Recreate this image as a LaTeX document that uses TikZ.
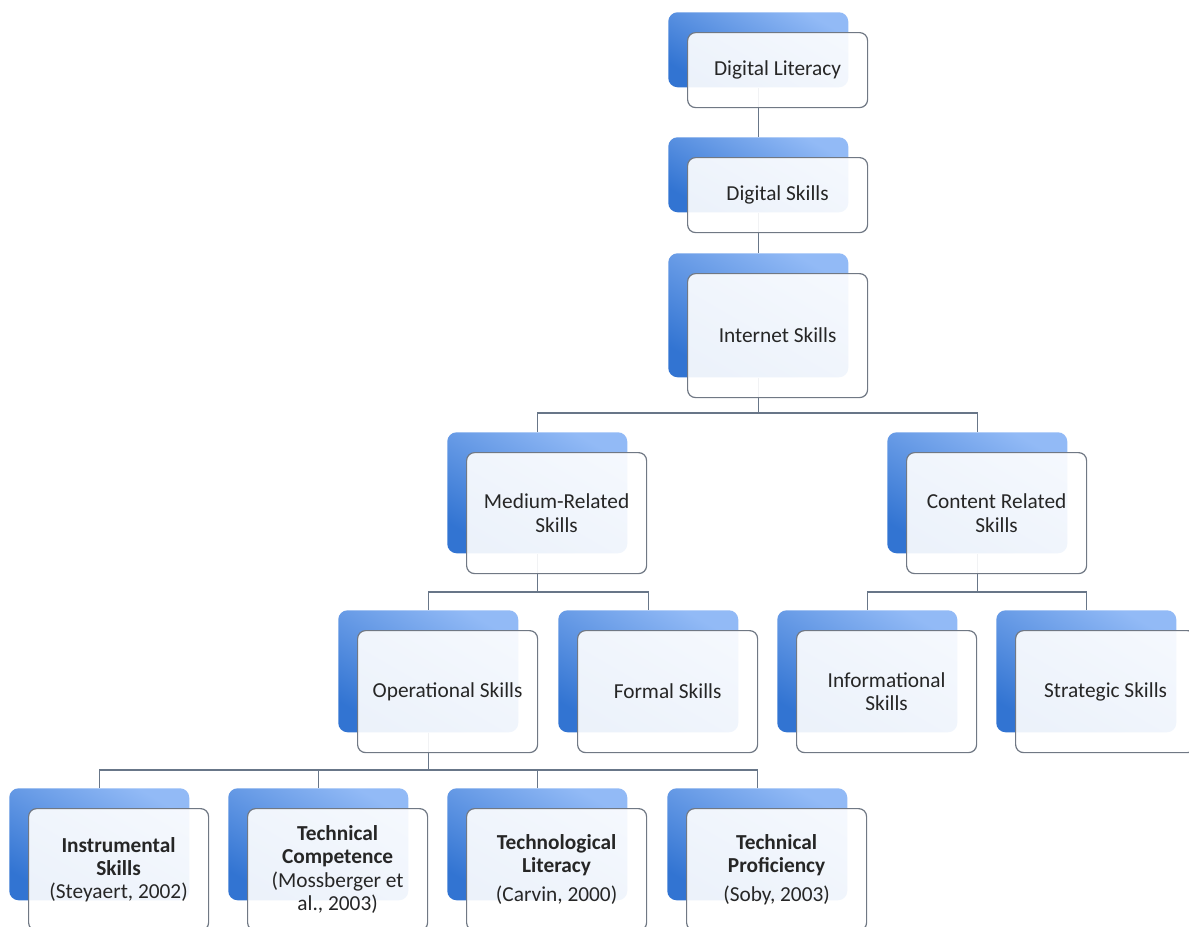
\documentclass[tikz,border=0pt]{standalone}
\usepackage{fontspec}
\setmainfont{Carlito}
\usetikzlibrary{calc}
\pgfdeclarelayer{background}
\pgfsetlayers{background,main}

\definecolor{bluetop}{RGB}{146,186,246}
\definecolor{bluebot}{RGB}{50,116,210}
\definecolor{rimgray}{RGB}{112,120,132}
\definecolor{linkgray}{RGB}{104,118,136}
\definecolor{inkgray}{RGB}{38,38,38}

\tikzset{
  backbox/.style={shape=rectangle, rounded corners=7pt, draw=none,
    top color=bluetop, bottom color=bluebot, shading angle=-30},
  frontbox/.style={shape=rectangle, rounded corners=6pt, draw=rimgray,
    line width=0.9pt, fill=white, fill opacity=0.91, text opacity=1,
    text=inkgray, align=center,
    font=\fontsize{16}{17.5}\selectfont},
  link/.style={draw=linkgray, line width=1.1pt}
}

\begin{document}
\begin{tikzpicture}[x=0.75pt,y=0.75pt]

% ------------------------------------------------------------------
% Each skill is drawn as: \skillpair{name}{x}{y}{height}{front height}{text}
% (x,y) is the top-left corner of the blue card, in pixels from the top-left.
% The white card sits 19 px right and 20 px below the blue one.
% ------------------------------------------------------------------
\newcommand{\skillpair}[6]{%
  \node[backbox, minimum width=180*0.75pt, minimum height=#4*0.75pt,
    anchor=north west] (#1) at (#2,-#3) {};
  \node[frontbox, minimum width=180*0.75pt, minimum height=#5*0.75pt,
    anchor=north west] (#1-f) at (#2+19,-#3-20) {#6};
}

\useasboundingbox (0,0) rectangle (1189,-926);
\clip (0,0) rectangle (1189,-926);

% Heights of the horizontal bars.
\coordinate (bar1) at (0,-413);
\coordinate (bar2) at (0,-592);
\coordinate (bar3) at (0,-770);

% Top chain.
\skillpair{lit}{668}{12}{75}{75}{Digital Literacy}
\skillpair{dig}{668}{137}{75}{75}{Digital Skills}
\skillpair{int}{668}{253}{124}{124}{Internet Skills}

% Second level.
\skillpair{med}{447}{432}{121}{121}{Medium-Related\\Skills}
\skillpair{con}{887}{432}{121}{121}{Content Related\\Skills}

% Third level.
\skillpair{ope}{338}{610}{122}{122}{Operational Skills}
\skillpair{frm}{558}{610}{122}{122}{Formal Skills}
\skillpair{inf}{777}{610}{122}{122}{Informational\\Skills}
\skillpair{str}{996}{610}{122}{122}{Strategic Skills}

% Bottom row, cut by the lower edge.
\skillpair{ins}{9}{788}{112}{122}{\textbf{Instrumental}\\\textbf{Skills}\\(Steyaert, 2002)}
\skillpair{tco}{228}{788}{112}{122}{\textbf{Technical}\\\textbf{Competence}\\(Mossberger et\\al., 2003)}
\skillpair{tli}{447}{788}{112}{122}{\textbf{Technological}\\\textbf{Literacy}\\[4pt](Carvin, 2000)}
\skillpair{tpr}{667}{788}{112}{122}{\textbf{Technical}\\\textbf{Proficiency}\\[4pt](Soby, 2003)}

% Connectors run behind the white cards.
\begin{pgfonlayer}{background}
\draw[link] (lit.south) -- (lit.south |- dig.north);
\draw[link] (dig.south) -- (dig.south |- int.north);
\foreach \kid in {med,con}
  \draw[link] (int.south) |- (\kid.north |- bar1) -- (\kid.north);
\foreach \kid in {ope,frm}
  \draw[link] (med.south) |- (\kid.north |- bar2) -- (\kid.north);
\foreach \kid in {inf,str}
  \draw[link] (con.south) |- (\kid.north |- bar2) -- (\kid.north);
\foreach \kid in {ins,tco,tli,tpr}
  \draw[link] (ope.south) |- (\kid.north |- bar3) -- (\kid.north);
\end{pgfonlayer}

\end{tikzpicture}
\end{document}
